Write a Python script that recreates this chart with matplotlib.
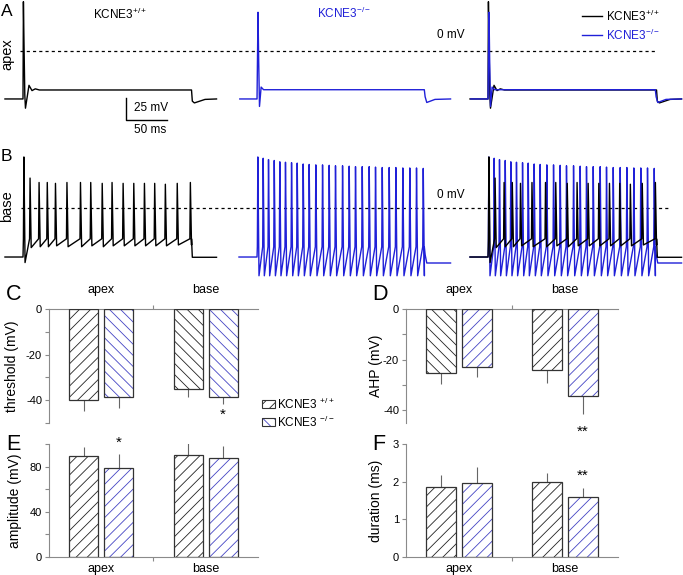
import numpy as np
import matplotlib
matplotlib.use("Agg")
import matplotlib.pyplot as plt
from matplotlib.patches import Rectangle

plt.rcParams['font.family'] = ['Liberation Sans', 'DejaVu Sans']
plt.rcParams['mathtext.fontset'] = 'custom'
plt.rcParams['mathtext.rm'] = 'Liberation Sans'
plt.rcParams['mathtext.default'] = 'regular'
plt.rcParams['axes.unicode_minus'] = False
plt.rcParams['hatch.linewidth'] = 0.6

# ---- data ----
# apex traces: (time in ms from step onset, membrane potential in mV)
apex_wt_t = [-22, 0, 0.5, 1.2, 2.2, 3.0, 7.3, 11, 15, 20, 205.5, 206.5, 209, 222, 236]
apex_wt_v = [-54.5, -54.5, 56, 10, -50, -65, -39, -45, -43, -44.3, -44.3, -57, -59, -55, -54.5]
apex_ko_t = [-21, 0, 1.2, 2.0, 3.0, 5.0, 8, 204, 205, 207, 217, 236]
apex_ko_v = [-54.5, -54.5, 44, -10, -63, -41, -44, -44, -52, -58.5, -55, -54.5]

# base traces: spike times (ms), peaks (mV), after-spike troughs (mV)
base_wt_spk = [0.5, 8, 19, 29, 39, 53, 69.5, 82, 96, 108, 121.5, 134.5, 147.5, 160, 173, 187.5, 203.5]
base_wt_pk = [58, 34, 29, 29, 28, 29, 29, 29, 28, 29, 28, 28, 28, 28, 27, 28, 29]
base_wt_tr = [-62, -45, -44, -44, -43, -44, -44, -43, -44, -43, -43, -43, -43, -43, -43, -42, -42]
base_ko_spk = [0.4, 6.9, 13.4, 20.4, 27.2, 34.1, 41.5, 48.4, 55.7, 63, 71.1, 79.3, 87.4, 95.1,
               103.7, 111.8, 119.5, 127.7, 136.2, 143.9, 152.1, 160.6, 168.7, 177.2, 185.7, 193.9, 202.1]
base_ko_pk = [58, 56.5, 55, 54, 52.5, 52, 51.5, 51, 50, 49.5, 49, 49, 48.5, 48, 48, 47.5, 47,
              47, 47, 46.5, 46, 46, 46, 45.5, 45.5, 45.5, 45]
base_ko_tr = [-77] * 27

groups = ['apex', 'base']
threshold_mean = [-40.0, -38.5, -34.9, -38.5]
threshold_err = [4.7, 4.9, 3.9, 3.3]
ahp_mean = [-25.4, -23.0, -24.1, -34.4]
ahp_err = [4.4, 3.8, 5.3, 6.9]
amp_mean = [89.4, 78.5, 90.3, 87.4]
amp_err = [8.2, 12.7, 10.3, 10.8]
dur_mean = [1.85, 1.96, 1.98, 1.59]
dur_err = [0.33, 0.42, 0.26, 0.24]

BLUE = '#2020d8'
HBLUE = '#4444c4'
DARK = '#222222'
GRAY = '#8a8a8a'

W, H = 683, 575
fig = plt.figure(figsize=(W / 100, H / 100), dpi=100)


def box(x0, y0, x1, y1):
    return [x0 / W, 1 - y1 / H, (x1 - x0) / W, (y1 - y0) / H]


def ftext(x, y, s, **kw):
    fig.text(x / W, 1 - y / H, s, **kw)


def train(spk, pk, tr, v_rest, v_thr, t_off, post_t, post_v):
    t = [-22, 0]
    v = [v_rest, v_rest]
    for ts, p, r in zip(spk, pk, tr):
        t += [ts, ts + 0.6, ts + 2.0]
        v += [v_thr, p, r]
    t += [t_off] + post_t
    v += [v_thr] + post_v
    return np.array(t), np.array(v)


# ---- trace rows ----
PX_MS = 0.82
PX_MV = 0.88
onsets = [0, 285.4, 567.1]


def trace_axes(y0, y1, zero_py):
    ax = fig.add_axes(box(0, y0, W, y1))
    ax.set_xlim((0 - 23) / PX_MS, (W - 23) / PX_MS)
    ax.set_ylim((zero_py - y1) / PX_MV, (zero_py - y0) / PX_MV)
    ax.axis('off')
    return ax


axA = trace_axes(0, 140, 51)
axA.plot([-4, 773], [0, 0], ls=(0, (2.5, 2.5)), color='k', lw=0.9)
for off, show in zip(onsets, ['wt', 'ko', 'both']):
    if show in ('wt', 'both'):
        axA.plot(np.array(apex_wt_t) + off, apex_wt_v, color='k', lw=1.0, clip_on=False)
    if show in ('ko', 'both'):
        axA.plot(np.array(apex_ko_t) + off, apex_ko_v, color=BLUE, lw=1.0, clip_on=False)

# scale bar
sb_t, sb_v = 125.6, -78.4
axA.plot([sb_t, sb_t, sb_t + 50], [sb_v + 25, sb_v, sb_v], color='k', lw=1.0)

axB = trace_axes(140, 280, 208)
axB.plot([-2, 786], [0, 0], ls=(0, (2.5, 2.5)), color='k', lw=0.9)
wt_t, wt_v = train(base_wt_spk, base_wt_pk, base_wt_tr, -55.7, -35, 205.5,
                   [206.5, 236], [-56, -56])
ko_t, ko_v = train(base_ko_spk, base_ko_pk, base_ko_tr, -55.7, -44, 204,
                   [205, 207, 236], [-53, -62.5, -62.5])
for off, show in zip(onsets, ['wt', 'ko', 'both']):
    if show == 'both':
        axB.plot(ko_t + off, ko_v, color=BLUE, lw=1.0, clip_on=False)
        axB.plot(wt_t + off, wt_v, color='k', lw=1.0, clip_on=False)
    elif show == 'wt':
        axB.plot(wt_t + off, wt_v, color='k', lw=1.0, clip_on=False)
    else:
        axB.plot(ko_t + off, ko_v, color=BLUE, lw=1.0, clip_on=False)

# trace texts
ftext(1, 11, 'A', fontsize=12.5, va='center')
ftext(1, 157, 'B', fontsize=12.5, va='center')
ftext(7, 54, 'apex', fontsize=10.5, rotation=90, ha='center', va='center')
ftext(7, 206, 'base', fontsize=10.5, rotation=90, ha='center', va='center')
ftext(93, 14, 'KCNE3$^{+/+}$', fontsize=8.5, va='center')
ftext(317, 13, 'KCNE3$^{-/-}$', fontsize=8.5, va='center', color=BLUE)
ftext(437, 35, '0 mV', fontsize=8.5, va='center')
ftext(437, 195, '0 mV', fontsize=8.5, va='center')
ftext(134, 108, '25 mV', fontsize=8.5, va='center')
ftext(134, 130, '50 ms', fontsize=8.5, va='center')
fig.add_artist(plt.Line2D([582 / W, 602 / W], [1 - 16 / H, 1 - 16 / H], color='k', lw=1.0))
fig.add_artist(plt.Line2D([582 / W, 602 / W], [1 - 35 / H, 1 - 35 / H], color=BLUE, lw=1.0))
ftext(606, 16, 'KCNE3$^{+/+}$', fontsize=8.5, va='center')
ftext(606, 35, 'KCNE3$^{-/-}$', fontsize=8.5, va='center', color=BLUE)


# ---- bar panels ----
def bar_panel(px, means, errs, hatches, ylim, major, minor, top, ylabel, ylab_x):
    ax = fig.add_axes(box(*px))
    x = [1, 2, 4, 5]
    hcols = [DARK, HBLUE, DARK, HBLUE]
    for xi, m, h, hc in zip(x, means, hatches, hcols):
        ax.bar(xi, m, 0.84, color='white', edgecolor=hc, hatch=h, linewidth=0, zorder=2)
    ax.bar(x, means, 0.84, fill=False, edgecolor='#333333', linewidth=0.9, zorder=3)
    lo = [e if m < 0 else 0 for m, e in zip(means, errs)]
    hi = [0 if m < 0 else e for m, e in zip(means, errs)]
    ax.errorbar(x, means, yerr=[lo, hi], fmt='none', ecolor='#666666', elinewidth=0.8,
                capsize=0, zorder=1)
    ax.set_xlim(0, 6)
    ax.set_ylim(*ylim)
    for s in ['right', 'bottom' if top else 'top']:
        ax.spines[s].set_visible(False)
    for s in ['left', 'top' if top else 'bottom']:
        ax.spines[s].set_color(GRAY)
        ax.spines[s].set_linewidth(0.8)
    if top:
        ax.xaxis.tick_top()
    ax.set_xticks([3])
    ax.set_xticklabels([])
    ax.set_yticks(major)
    ax.set_yticks(minor, minor=True)
    ax.set_yticklabels([f'{v:g}' for v in major], fontsize=8)
    ax.tick_params(axis='both', which='both', color=GRAY, width=0.8, length=3, pad=2)
    lab_y = (px[1] - 19) if top else (px[3] + 12)
    for gx, g in zip([1.5, 4.5], groups):
        xpix = px[0] + (px[2] - px[0]) * gx / 6
        ftext(xpix, lab_y, g, fontsize=9, ha='center', va='center')
    ftext(ylab_x, (px[1] + px[3]) / 2, ylabel, fontsize=10, rotation=90, ha='center', va='center')
    return ax


F, B = '///', '\\\\\\'
axC = bar_panel((49, 309, 258, 423), threshold_mean, threshold_err, [F, B, B, B],
                (-50, 0), [0, -20, -40], [-10, -30, -50], True, 'threshold (mV)', 12)
axD = bar_panel((406, 309, 618, 423), ahp_mean, ahp_err, [B, F, F, F],
                (-45, 0), [0, -20, -40], [-10, -30], True, 'AHP (mV)', 376)
axE = bar_panel((49, 444, 258, 557), amp_mean, amp_err, [F] * 4,
                (0, 100), [0, 40, 80], [20, 60, 100], False, 'amplitude (mV)', 15)
axF = bar_panel((406, 444, 618, 557), dur_mean, dur_err, [F] * 4,
                (0, 3), [0, 1, 2, 3], [], False, 'duration (ms)', 376)

axC.text(5, -46.5, '*', fontsize=11, ha='center', va='center')
axD.text(5, -48.5, '**', fontsize=11, ha='center', va='center', clip_on=False)
axE.text(2, 101, '*', fontsize=11, ha='center', va='center', clip_on=False)
axF.text(5, 2.15, '**', fontsize=11, ha='center', va='center')

for lbl, xp, yp in [('C', 6, 295), ('D', 372, 295), ('E', 6, 445), ('F', 372, 445)]:
    ftext(xp, yp, lbl, fontsize=15.5, va='center')

# legend for bars
for yp, h, hc, s in [(404, F, DARK, 'KCNE3 $^{+/+}$'), (422, B, HBLUE, 'KCNE3 $^{-/-}$')]:
    fig.add_artist(Rectangle((262 / W, 1 - (yp + 4) / H), 13 / W, 8 / H, transform=fig.transFigure,
                             facecolor='white', edgecolor=hc, hatch=h, linewidth=0))
    fig.add_artist(Rectangle((262 / W, 1 - (yp + 4) / H), 13 / W, 8 / H, transform=fig.transFigure,
                             fill=False, edgecolor='#333333', linewidth=0.8))
    ftext(277, yp, s, fontsize=8.5, va='center')

fig.savefig('out.png', dpi=100)
